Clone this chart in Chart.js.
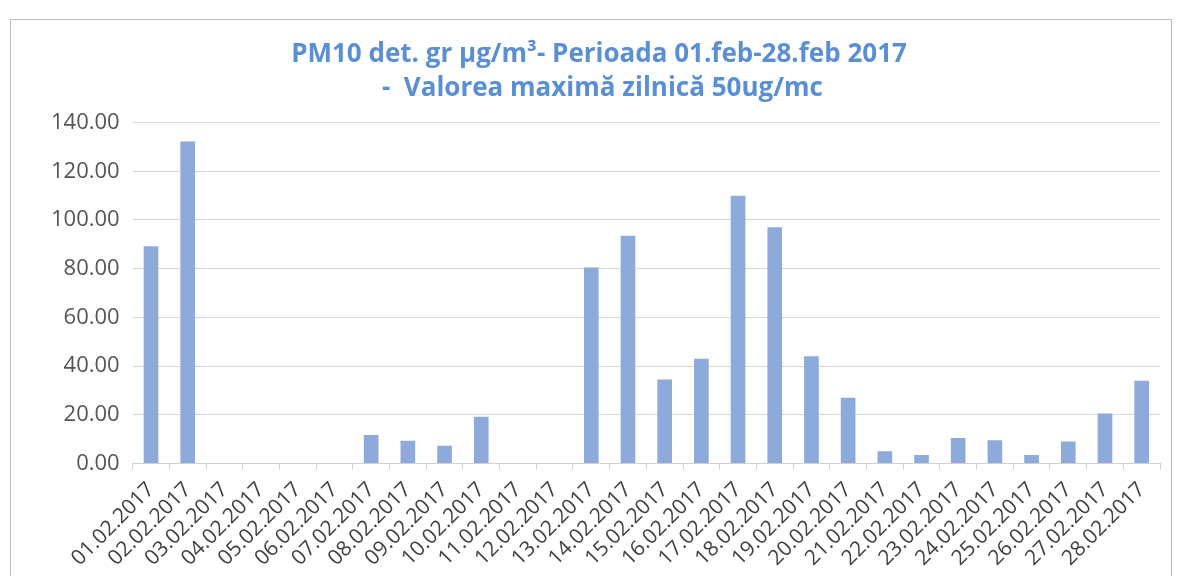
<!DOCTYPE html>
<html>
<head>
<meta charset="utf-8">
<script src="https://cdn.jsdelivr.net/npm/chart.js@4.4.1/dist/chart.umd.min.js"></script>
<style>
  html, body { margin: 0; padding: 0; background: #fff; }
  #wrap { position: relative; width: 1179px; height: 576px; overflow: hidden; }
  #frame { position: absolute; left: 10px; top: 19px; width: 1160px; height: 600px; border: 1px solid #bdbdbd; }
  canvas { position: absolute; left: 0; top: 0; }
</style>
</head>
<body>
<div id="wrap">
  <div id="frame"></div>
  <canvas id="pmChart" width="1179" height="600"></canvas>
</div>
<script>
const zile = ['01.02.2017', '02.02.2017', '03.02.2017', '04.02.2017', '05.02.2017', '06.02.2017', '07.02.2017',
    '08.02.2017', '09.02.2017', '10.02.2017', '11.02.2017', '12.02.2017', '13.02.2017', '14.02.2017',
    '15.02.2017', '16.02.2017', '17.02.2017', '18.02.2017', '19.02.2017', '20.02.2017', '21.02.2017',
    '22.02.2017', '23.02.2017', '24.02.2017', '25.02.2017', '26.02.2017', '27.02.2017', '28.02.2017'];

// valori PM10 (null = fara date)
const valoriPM10 = [89.2, 132.2, null, null, null, null, 11.7,
    9.3, 7.3, 19.2, null, null, 80.5, 93.5,
    34.5, 43, 110, 97, 44, 27, 5,
    3.5, 10.5, 9.5, 3.5, 9, 20.5, 34];

const tickuriY = [0, 20, 40, 60, 80, 100, 120, 140];

const titlu = ['PM10 det. gr \u00b5g/m\u00b3- Perioada 01.feb-28.feb 2017', ' -  Valorea maxim\u0103 zilnic\u0103 50ug/mc'];

const ctx = document.getElementById('pmChart').getContext('2d');

new Chart(ctx, {
    type: 'bar',
    data: {
        labels: zile,
        datasets: [{
            label: 'PM10',
            data: valoriPM10,
            backgroundColor: '#8eaadb',
            borderWidth: 0,
            categoryPercentage: 1,
            barPercentage: 0.4
        }]
    },
    options: {
        responsive: false,
        animation: false,
        layout: { padding: { left: 38, right: 19, top: 38, bottom: 21 } },
        plugins: {
            legend: { display: false },
            tooltip: { enabled: false },
            title: {
                display: true,
                text: titlu,
                color: '#5b8fd3',
                font: { family: '"Open Sans", sans-serif', size: 26, weight: 'bold', lineHeight: 1.3 },
                padding: { top: 0, bottom: 17 }
            }
        },
        scales: {
            x: {
                grid: { drawOnChartArea: false, color: '#d0d0d0', tickLength: 6, offset: true },
                border: { color: '#d0d0d0' },
                ticks: {
                    minRotation: 45,
                    maxRotation: 45,
                    autoSkip: false,
                    color: '#404040',
                    padding: 8,
                    font: { family: '"Open Sans", sans-serif', size: 21 }
                }
            },
            y: {
                min: 0,
                max: 140,
                afterBuildTicks: axis => { axis.ticks = tickuriY.map(v => ({ value: v })); },
                grid: { color: '#d6d6d6', drawTicks: false },
                border: { display: false },
                ticks: {
                    padding: 13,
                    color: '#555555',
                    font: { family: '"Open Sans", sans-serif', size: 22 },
                    callback: v => Number(v).toFixed(2)
                }
            }
        }
    }
});
</script>
</body>
</html>
